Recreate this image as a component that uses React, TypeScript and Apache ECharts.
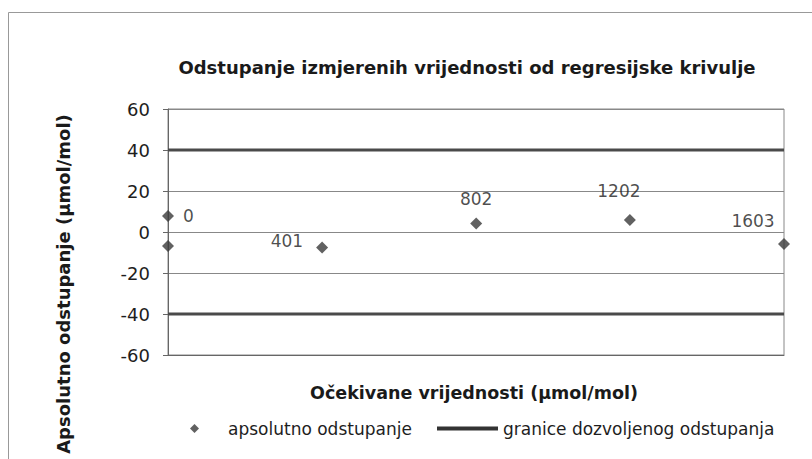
import React, { useEffect, useRef } from "react";
import * as echarts from "echarts";

const expectedX: number[] = [0, 0, 401, 802, 1202, 1603];
const deviation: number[] = [7.8, -6.8, -7.6, 4.2, 5.8, -5.9];
const pointLabels: string[] = ["0", "", "401", "802", "1202", "1603"];
const limitUpper: number[] = [40, 40];
const limitLower: number[] = [-40, -40];
const limitX: number[] = [0, 1603];
const yTicks = { min: -60, max: 60, interval: 20 };

const titleText = "Odstupanje izmjerenih vrijednosti od regresijske krivulje";
const yTitle = "Apsolutno odstupanje (\u00b5mol/mol)";
const xTitle = "O\u010dekivane vrijednosti (\u00b5mol/mol)";
const seriesPoints = "apsolutno odstupanje";
const seriesLimits = "granice dozvoljenog odstupanja";

const labelOffsets: Array<{ position: string; offset: number[] }> = [
  { position: "right", offset: [4, 0] },
  { position: "right", offset: [0, 0] },
  { position: "left", offset: [-8, -7] },
  { position: "top", offset: [0, -5] },
  { position: "top", offset: [-11, -10] },
  { position: "top", offset: [-31, -4] },
];

const FONT = "'DejaVu Sans', sans-serif";

export default function App() {
  const ref = useRef<HTMLDivElement>(null);
  useEffect(() => {
    if (!ref.current) return;
    const chart = echarts.init(ref.current, undefined, { renderer: "svg" });
    const points = expectedX.map((x, i) => ({
      value: [x, deviation[i]],
      label: {
        show: pointLabels[i] !== "",
        formatter: pointLabels[i],
        position: labelOffsets[i].position,
        offset: labelOffsets[i].offset,
        distance: 5,
        color: "#1e1e1e",
        fontSize: 17,
        fontFamily: FONT,
      },
    }));
    chart.setOption({
      animation: false,
      backgroundColor: "#fff",
      textStyle: { fontFamily: FONT },
      title: {
        text: titleText,
        left: 462,
        textAlign: "center",
        top: 53,
        textStyle: { fontSize: 18, fontWeight: "bold", color: "#1a1a1a", fontFamily: FONT },
      },
      grid: {
        left: 168,
        right: 28,
        top: 109,
        bottom: 104,
        show: true,
        borderColor: "#888",
        borderWidth: 1,
      },
      xAxis: {
        type: "value",
        min: limitX[0],
        max: limitX[1],
        axisLabel: { show: false },
        axisTick: { show: false },
        splitLine: { show: false },
        axisLine: { show: true, onZero: false, lineStyle: { color: "#666" } },
        name: xTitle,
        nameLocation: "middle",
        nameGap: 29,
        nameTextStyle: {
          fontSize: 17.5,
          fontWeight: "bold",
          color: "#1a1a1a",
          fontFamily: FONT,
          padding: [0, 4, 0, 0],
        },
      },
      yAxis: {
        type: "value",
        min: yTicks.min,
        max: yTicks.max,
        interval: yTicks.interval,
        axisLine: { show: true, lineStyle: { color: "#666" } },
        axisTick: { show: true, length: 5, lineStyle: { color: "#666" } },
        axisLabel: { fontSize: 18, color: "#1e1e1e", margin: 18, fontFamily: FONT },
        splitLine: { show: true, lineStyle: { color: "#888", width: 1 } },
      },
      legend: [
        {
          data: [{ name: seriesPoints, icon: "diamond" }],
          left: 185,
          top: 415,
          itemWidth: 9,
          itemHeight: 9,
          textStyle: {
            fontSize: 17,
            color: "#1e1e1e",
            fontFamily: FONT,
            padding: [0, 0, 0, 24],
          },
        },
        {
          data: [{ name: seriesLimits, icon: "rect" }],
          left: 432,
          top: 415,
          itemWidth: 61,
          itemHeight: 4,
          itemStyle: { color: "#333" },
          textStyle: { fontSize: 17, color: "#1e1e1e", fontFamily: FONT },
        },
      ],
      graphic: [
        {
          type: "rect",
          shape: { x: 8.5, y: 12.5, width: 900, height: 600 },
          style: { fill: "none", stroke: "#999", lineWidth: 1 },
          silent: true,
        },
        {
          type: "text",
          x: 63,
          y: 284,
          rotation: Math.PI / 2,
          style: {
            text: yTitle,
            fontSize: 18,
            fontWeight: "bold",
            fill: "#1a1a1a",
            fontFamily: FONT,
            align: "center",
            verticalAlign: "middle",
          },
        },
      ],
      series: [
        {
          name: seriesLimits,
          type: "line",
          data: limitX.map((x, i) => [x, limitUpper[i]]),
          showSymbol: false,
          symbol: "none",
          lineStyle: { color: "#4a4a4a", width: 3 },
          itemStyle: { color: "#4a4a4a" },
          z: 3,
        },
        {
          name: seriesLimits,
          type: "line",
          data: limitX.map((x, i) => [x, limitLower[i]]),
          showSymbol: false,
          symbol: "none",
          lineStyle: { color: "#4a4a4a", width: 3 },
          itemStyle: { color: "#4a4a4a" },
          z: 3,
        },
        {
          name: seriesPoints,
          type: "scatter",
          symbol: "diamond",
          symbolSize: 12,
          itemStyle: { color: "#3a3a3a" },
          data: points,
          z: 5,
        },
      ],
    });
    return () => chart.dispose();
  }, []);
  return (
    <div
      ref={ref}
      style={{ position: "fixed", left: 0, top: 0, width: 812, height: 459 }}
    />
  );
}
